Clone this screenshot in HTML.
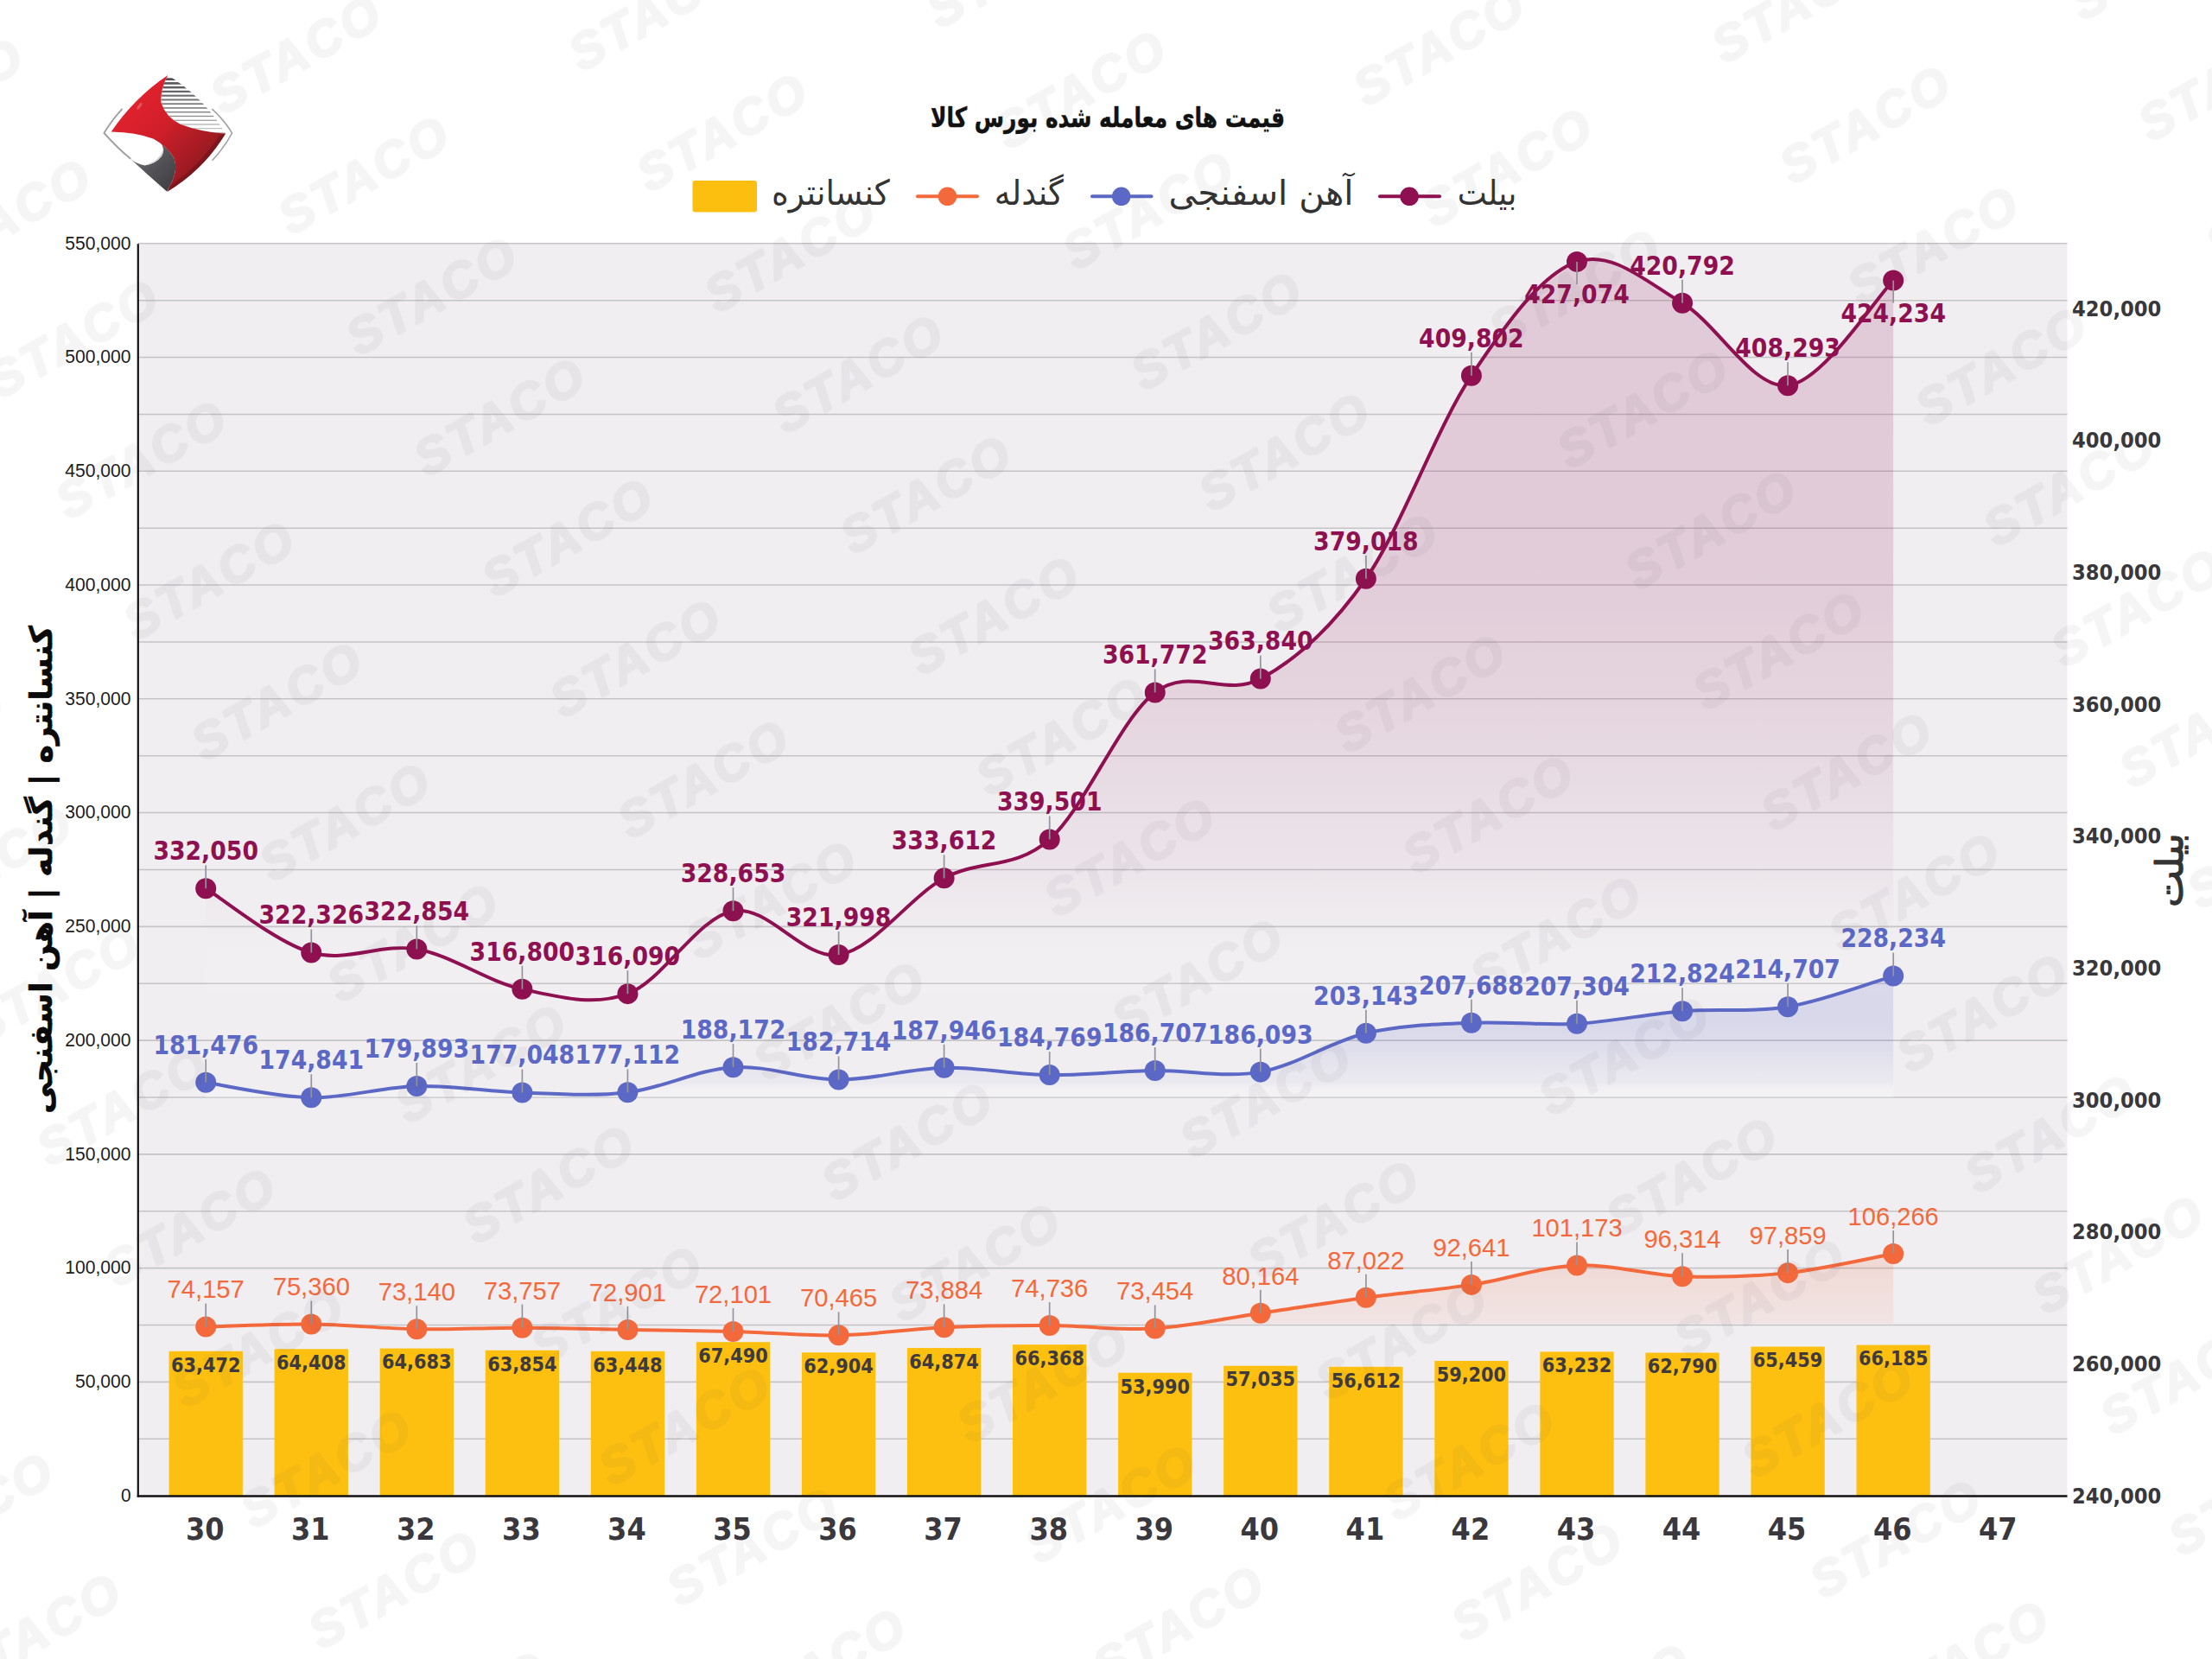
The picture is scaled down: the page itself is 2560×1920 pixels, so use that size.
<!DOCTYPE html>
<html lang="fa"><head><meta charset="utf-8"><title>قیمت های معامله شده بورس کالا</title>
<style>html,body{margin:0;padding:0;background:#fff}body{width:2560px;height:1920px;overflow:hidden}svg{display:block;font-family:'Liberation Sans','DejaVu Sans',sans-serif}</style></head>
<body>
<svg width="2560" height="1920" viewBox="0 0 2560 1920">
<defs>
<linearGradient id="gb" gradientUnits="userSpaceOnUse" x1="0" y1="302.9" x2="0" y2="1150.1"><stop offset="0.00" stop-color="#8f1050" stop-opacity="0.160"/><stop offset="0.42" stop-color="#8f1050" stop-opacity="0.155"/><stop offset="0.63" stop-color="#8f1050" stop-opacity="0.106"/><stop offset="0.83" stop-color="#8f1050" stop-opacity="0.042"/><stop offset="0.93" stop-color="#ffffff" stop-opacity="0.032"/><stop offset="1.00" stop-color="#ffffff" stop-opacity="0.080"/></linearGradient>
<linearGradient id="gs" gradientUnits="userSpaceOnUse" x1="0" y1="1129.6" x2="0" y2="1268.8"><stop offset="0.00" stop-color="#5b68c6" stop-opacity="0.165"/><stop offset="0.42" stop-color="#5b68c6" stop-opacity="0.160"/><stop offset="0.63" stop-color="#5b68c6" stop-opacity="0.109"/><stop offset="0.83" stop-color="#5b68c6" stop-opacity="0.043"/><stop offset="0.93" stop-color="#ffffff" stop-opacity="0.112"/><stop offset="1.00" stop-color="#ffffff" stop-opacity="0.280"/></linearGradient>
<linearGradient id="gp" gradientUnits="userSpaceOnUse" x1="0" y1="1451.0" x2="0" y2="1532"><stop offset="0" stop-color="#f4693b" stop-opacity="0.17"/><stop offset="1" stop-color="#f4693b" stop-opacity="0.07"/></linearGradient>
<clipPath id="cpp"><rect x="0" y="0" width="2560" height="1532"/></clipPath>
<linearGradient id="lgr" x1="0" y1="0" x2="1" y2="1"><stop offset="0" stop-color="#ee2430"/><stop offset="0.45" stop-color="#d01f2a"/><stop offset="1" stop-color="#6e161b"/></linearGradient>
<linearGradient id="lgg" x1="0" y1="0" x2="1" y2="1"><stop offset="0" stop-color="#8a8a8c"/><stop offset="0.5" stop-color="#55555a"/><stop offset="1" stop-color="#3c3c40"/></linearGradient>
</defs>
<rect width="2560" height="1920" fill="#ffffff"/>
<rect x="160.0" y="282.2" width="2232.5" height="1449.3" fill="#f0eef1"/>
<line x1="160.0" x2="2392.5" y1="1665.22" y2="1665.22" stroke="#c4c3c6" stroke-width="1.6"/>
<line x1="160.0" x2="2392.5" y1="1599.35" y2="1599.35" stroke="#c4c3c6" stroke-width="1.6"/>
<line x1="160.0" x2="2392.5" y1="1533.47" y2="1533.47" stroke="#c4c3c6" stroke-width="1.6"/>
<line x1="160.0" x2="2392.5" y1="1467.59" y2="1467.59" stroke="#c4c3c6" stroke-width="1.6"/>
<line x1="160.0" x2="2392.5" y1="1401.71" y2="1401.71" stroke="#c4c3c6" stroke-width="1.6"/>
<line x1="160.0" x2="2392.5" y1="1335.84" y2="1335.84" stroke="#c4c3c6" stroke-width="1.6"/>
<line x1="160.0" x2="2392.5" y1="1269.96" y2="1269.96" stroke="#c4c3c6" stroke-width="1.6"/>
<line x1="160.0" x2="2392.5" y1="1204.08" y2="1204.08" stroke="#c4c3c6" stroke-width="1.6"/>
<line x1="160.0" x2="2392.5" y1="1138.20" y2="1138.20" stroke="#c4c3c6" stroke-width="1.6"/>
<line x1="160.0" x2="2392.5" y1="1072.33" y2="1072.33" stroke="#c4c3c6" stroke-width="1.6"/>
<line x1="160.0" x2="2392.5" y1="1006.45" y2="1006.45" stroke="#c4c3c6" stroke-width="1.6"/>
<line x1="160.0" x2="2392.5" y1="940.57" y2="940.57" stroke="#c4c3c6" stroke-width="1.6"/>
<line x1="160.0" x2="2392.5" y1="874.70" y2="874.70" stroke="#c4c3c6" stroke-width="1.6"/>
<line x1="160.0" x2="2392.5" y1="808.82" y2="808.82" stroke="#c4c3c6" stroke-width="1.6"/>
<line x1="160.0" x2="2392.5" y1="742.94" y2="742.94" stroke="#c4c3c6" stroke-width="1.6"/>
<line x1="160.0" x2="2392.5" y1="677.06" y2="677.06" stroke="#c4c3c6" stroke-width="1.6"/>
<line x1="160.0" x2="2392.5" y1="611.19" y2="611.19" stroke="#c4c3c6" stroke-width="1.6"/>
<line x1="160.0" x2="2392.5" y1="545.31" y2="545.31" stroke="#c4c3c6" stroke-width="1.6"/>
<line x1="160.0" x2="2392.5" y1="479.43" y2="479.43" stroke="#c4c3c6" stroke-width="1.6"/>
<line x1="160.0" x2="2392.5" y1="413.55" y2="413.55" stroke="#c4c3c6" stroke-width="1.6"/>
<line x1="160.0" x2="2392.5" y1="347.68" y2="347.68" stroke="#c4c3c6" stroke-width="1.6"/>
<line x1="160.0" x2="2392.5" y1="281.80" y2="281.80" stroke="#c4c3c6" stroke-width="1.6"/>
<rect x="195.55" y="1563.75" width="85.30" height="167.75" fill="#fdc010"/>
<rect x="317.61" y="1561.28" width="85.30" height="170.22" fill="#fdc010"/>
<rect x="439.67" y="1560.55" width="85.30" height="170.95" fill="#fdc010"/>
<rect x="561.73" y="1562.74" width="85.30" height="168.76" fill="#fdc010"/>
<rect x="683.79" y="1563.81" width="85.30" height="167.69" fill="#fdc010"/>
<rect x="805.85" y="1553.16" width="85.30" height="178.34" fill="#fdc010"/>
<rect x="927.91" y="1565.24" width="85.30" height="166.26" fill="#fdc010"/>
<rect x="1049.97" y="1560.05" width="85.30" height="171.45" fill="#fdc010"/>
<rect x="1172.03" y="1556.11" width="85.30" height="175.39" fill="#fdc010"/>
<rect x="1294.09" y="1588.73" width="85.30" height="142.77" fill="#fdc010"/>
<rect x="1416.15" y="1580.71" width="85.30" height="150.79" fill="#fdc010"/>
<rect x="1538.21" y="1581.82" width="85.30" height="149.68" fill="#fdc010"/>
<rect x="1660.27" y="1575.00" width="85.30" height="156.50" fill="#fdc010"/>
<rect x="1782.33" y="1564.38" width="85.30" height="167.12" fill="#fdc010"/>
<rect x="1904.39" y="1565.54" width="85.30" height="165.96" fill="#fdc010"/>
<rect x="2026.45" y="1558.51" width="85.30" height="172.99" fill="#fdc010"/>
<rect x="2148.51" y="1556.60" width="85.30" height="174.90" fill="#fdc010"/>
<path d="M238.20,1028.29 C258.54,1040.66 319.57,1090.82 360.26,1102.52 C400.95,1114.22 441.63,1091.46 482.32,1098.49 C523.01,1105.52 563.69,1136.10 604.38,1144.71 C645.07,1153.31 685.75,1165.21 726.44,1150.13 C767.13,1135.05 807.81,1061.74 848.50,1054.22 C889.19,1046.71 929.87,1111.34 970.56,1105.03 C1011.25,1098.72 1051.93,1038.64 1092.62,1016.37 C1133.31,994.10 1173.99,1007.24 1214.68,971.41 C1255.37,935.58 1296.05,832.36 1336.74,801.39 C1377.43,770.43 1418.11,807.55 1458.80,785.61 C1499.49,763.66 1540.17,728.22 1580.86,669.74 C1621.55,611.26 1662.23,495.87 1702.92,434.73 C1743.61,373.59 1784.29,316.86 1824.98,302.88 C1865.67,288.89 1906.35,326.94 1947.04,350.83 C1987.73,374.73 2028.41,450.63 2069.10,446.25 C2109.79,441.87 2170.82,344.84 2191.16,324.56 L2191.16,1150.13 L238.20,1150.13 Z" fill="url(#gb)"/>
<path d="M238.20,1252.79 C258.54,1255.71 319.57,1269.58 360.26,1270.28 C400.95,1270.97 441.63,1257.93 482.32,1256.97 C523.01,1256.00 563.69,1263.24 604.38,1264.46 C645.07,1265.68 685.75,1269.18 726.44,1264.29 C767.13,1259.41 807.81,1237.61 848.50,1235.15 C889.19,1232.69 929.87,1249.43 970.56,1249.53 C1011.25,1249.63 1051.93,1236.65 1092.62,1235.75 C1133.31,1234.84 1173.99,1243.57 1214.68,1244.12 C1255.37,1244.66 1296.05,1239.59 1336.74,1239.01 C1377.43,1238.43 1418.11,1247.85 1458.80,1240.63 C1499.49,1233.41 1540.17,1205.18 1580.86,1195.70 C1621.55,1186.22 1662.23,1185.55 1702.92,1183.72 C1743.61,1181.90 1784.29,1186.99 1824.98,1184.74 C1865.67,1182.48 1906.35,1173.44 1947.04,1170.19 C1987.73,1166.94 2028.41,1172.00 2069.10,1165.23 C2109.79,1158.46 2170.82,1135.52 2191.16,1129.58 L2191.16,1270.28 L238.20,1270.28 Z" fill="url(#gs)"/>
<path d="M238.20,1535.59 C258.54,1535.06 319.57,1531.97 360.26,1532.42 C400.95,1532.87 441.63,1537.57 482.32,1538.27 C523.01,1538.97 563.69,1536.54 604.38,1536.64 C645.07,1536.75 685.75,1538.17 726.44,1538.90 C767.13,1539.63 807.81,1539.94 848.50,1541.01 C889.19,1542.08 929.87,1546.10 970.56,1545.32 C1011.25,1544.54 1051.93,1538.18 1092.62,1536.31 C1133.31,1534.43 1173.99,1533.87 1214.68,1534.06 C1255.37,1534.25 1296.05,1539.83 1336.74,1537.44 C1377.43,1535.06 1418.11,1525.72 1458.80,1519.76 C1499.49,1513.80 1540.17,1507.17 1580.86,1501.69 C1621.55,1496.21 1662.23,1493.10 1702.92,1486.88 C1743.61,1480.67 1784.29,1466.01 1824.98,1464.40 C1865.67,1462.79 1906.35,1475.75 1947.04,1477.20 C1987.73,1478.66 2028.41,1477.50 2069.10,1473.13 C2109.79,1468.76 2170.82,1454.67 2191.16,1450.98 L2191.16,1532.00 L238.20,1532.00 Z" fill="url(#gp)" clip-path="url(#cpp)"/>
<line x1="159.8" x2="159.8" y1="282.2" y2="1732.5" stroke="#111" stroke-width="2.2"/>
<line x1="158.7" x2="2392.5" y1="1731.5" y2="1731.5" stroke="#111" stroke-width="2.4"/>
<path d="M238.20,1028.29 C258.54,1040.66 319.57,1090.82 360.26,1102.52 C400.95,1114.22 441.63,1091.46 482.32,1098.49 C523.01,1105.52 563.69,1136.10 604.38,1144.71 C645.07,1153.31 685.75,1165.21 726.44,1150.13 C767.13,1135.05 807.81,1061.74 848.50,1054.22 C889.19,1046.71 929.87,1111.34 970.56,1105.03 C1011.25,1098.72 1051.93,1038.64 1092.62,1016.37 C1133.31,994.10 1173.99,1007.24 1214.68,971.41 C1255.37,935.58 1296.05,832.36 1336.74,801.39 C1377.43,770.43 1418.11,807.55 1458.80,785.61 C1499.49,763.66 1540.17,728.22 1580.86,669.74 C1621.55,611.26 1662.23,495.87 1702.92,434.73 C1743.61,373.59 1784.29,316.86 1824.98,302.88 C1865.67,288.89 1906.35,326.94 1947.04,350.83 C1987.73,374.73 2028.41,450.63 2069.10,446.25 C2109.79,441.87 2170.82,344.84 2191.16,324.56" fill="none" stroke="#8f1050" stroke-width="4" stroke-linejoin="round" stroke-linecap="round"/>
<path d="M238.20,1252.79 C258.54,1255.71 319.57,1269.58 360.26,1270.28 C400.95,1270.97 441.63,1257.93 482.32,1256.97 C523.01,1256.00 563.69,1263.24 604.38,1264.46 C645.07,1265.68 685.75,1269.18 726.44,1264.29 C767.13,1259.41 807.81,1237.61 848.50,1235.15 C889.19,1232.69 929.87,1249.43 970.56,1249.53 C1011.25,1249.63 1051.93,1236.65 1092.62,1235.75 C1133.31,1234.84 1173.99,1243.57 1214.68,1244.12 C1255.37,1244.66 1296.05,1239.59 1336.74,1239.01 C1377.43,1238.43 1418.11,1247.85 1458.80,1240.63 C1499.49,1233.41 1540.17,1205.18 1580.86,1195.70 C1621.55,1186.22 1662.23,1185.55 1702.92,1183.72 C1743.61,1181.90 1784.29,1186.99 1824.98,1184.74 C1865.67,1182.48 1906.35,1173.44 1947.04,1170.19 C1987.73,1166.94 2028.41,1172.00 2069.10,1165.23 C2109.79,1158.46 2170.82,1135.52 2191.16,1129.58" fill="none" stroke="#5b68c6" stroke-width="4" stroke-linejoin="round" stroke-linecap="round"/>
<path d="M238.20,1535.59 C258.54,1535.06 319.57,1531.97 360.26,1532.42 C400.95,1532.87 441.63,1537.57 482.32,1538.27 C523.01,1538.97 563.69,1536.54 604.38,1536.64 C645.07,1536.75 685.75,1538.17 726.44,1538.90 C767.13,1539.63 807.81,1539.94 848.50,1541.01 C889.19,1542.08 929.87,1546.10 970.56,1545.32 C1011.25,1544.54 1051.93,1538.18 1092.62,1536.31 C1133.31,1534.43 1173.99,1533.87 1214.68,1534.06 C1255.37,1534.25 1296.05,1539.83 1336.74,1537.44 C1377.43,1535.06 1418.11,1525.72 1458.80,1519.76 C1499.49,1513.80 1540.17,1507.17 1580.86,1501.69 C1621.55,1496.21 1662.23,1493.10 1702.92,1486.88 C1743.61,1480.67 1784.29,1466.01 1824.98,1464.40 C1865.67,1462.79 1906.35,1475.75 1947.04,1477.20 C1987.73,1478.66 2028.41,1477.50 2069.10,1473.13 C2109.79,1468.76 2170.82,1454.67 2191.16,1450.98" fill="none" stroke="#f4693b" stroke-width="4" stroke-linejoin="round" stroke-linecap="round"/>
<circle cx="238.20" cy="1535.59" r="12" fill="#f4693b"/>
<circle cx="360.26" cy="1532.42" r="12" fill="#f4693b"/>
<circle cx="482.32" cy="1538.27" r="12" fill="#f4693b"/>
<circle cx="604.38" cy="1536.64" r="12" fill="#f4693b"/>
<circle cx="726.44" cy="1538.90" r="12" fill="#f4693b"/>
<circle cx="848.50" cy="1541.01" r="12" fill="#f4693b"/>
<circle cx="970.56" cy="1545.32" r="12" fill="#f4693b"/>
<circle cx="1092.62" cy="1536.31" r="12" fill="#f4693b"/>
<circle cx="1214.68" cy="1534.06" r="12" fill="#f4693b"/>
<circle cx="1336.74" cy="1537.44" r="12" fill="#f4693b"/>
<circle cx="1458.80" cy="1519.76" r="12" fill="#f4693b"/>
<circle cx="1580.86" cy="1501.69" r="12" fill="#f4693b"/>
<circle cx="1702.92" cy="1486.88" r="12" fill="#f4693b"/>
<circle cx="1824.98" cy="1464.40" r="12" fill="#f4693b"/>
<circle cx="1947.04" cy="1477.20" r="12" fill="#f4693b"/>
<circle cx="2069.10" cy="1473.13" r="12" fill="#f4693b"/>
<circle cx="2191.16" cy="1450.98" r="12" fill="#f4693b"/>
<line x1="238.2" x2="238.2" y1="1508.6" y2="1535.6" stroke="#94949a" stroke-width="1.7"/>
<text x="238.2" y="1502.4" font-size="29.4" font-weight="400" fill="#f4693b" text-anchor="middle" textLength="89.2" lengthAdjust="spacingAndGlyphs">74,157</text>
<line x1="360.3" x2="360.3" y1="1505.4" y2="1532.4" stroke="#94949a" stroke-width="1.7"/>
<text x="360.3" y="1499.2" font-size="29.4" font-weight="400" fill="#f4693b" text-anchor="middle" textLength="89.2" lengthAdjust="spacingAndGlyphs">75,360</text>
<line x1="482.3" x2="482.3" y1="1511.3" y2="1538.3" stroke="#94949a" stroke-width="1.7"/>
<text x="482.3" y="1505.1" font-size="29.4" font-weight="400" fill="#f4693b" text-anchor="middle" textLength="89.2" lengthAdjust="spacingAndGlyphs">73,140</text>
<line x1="604.4" x2="604.4" y1="1509.6" y2="1536.6" stroke="#94949a" stroke-width="1.7"/>
<text x="604.4" y="1503.5" font-size="29.4" font-weight="400" fill="#f4693b" text-anchor="middle" textLength="89.2" lengthAdjust="spacingAndGlyphs">73,757</text>
<line x1="726.4" x2="726.4" y1="1511.9" y2="1538.9" stroke="#94949a" stroke-width="1.7"/>
<text x="726.4" y="1505.7" font-size="29.4" font-weight="400" fill="#f4693b" text-anchor="middle" textLength="89.2" lengthAdjust="spacingAndGlyphs">72,901</text>
<line x1="848.5" x2="848.5" y1="1514.0" y2="1541.0" stroke="#94949a" stroke-width="1.7"/>
<text x="848.5" y="1507.8" font-size="29.4" font-weight="400" fill="#f4693b" text-anchor="middle" textLength="89.2" lengthAdjust="spacingAndGlyphs">72,101</text>
<line x1="970.6" x2="970.6" y1="1518.3" y2="1545.3" stroke="#94949a" stroke-width="1.7"/>
<text x="970.6" y="1512.1" font-size="29.4" font-weight="400" fill="#f4693b" text-anchor="middle" textLength="89.2" lengthAdjust="spacingAndGlyphs">70,465</text>
<line x1="1092.6" x2="1092.6" y1="1509.3" y2="1536.3" stroke="#94949a" stroke-width="1.7"/>
<text x="1092.6" y="1503.1" font-size="29.4" font-weight="400" fill="#f4693b" text-anchor="middle" textLength="89.2" lengthAdjust="spacingAndGlyphs">73,884</text>
<line x1="1214.7" x2="1214.7" y1="1507.1" y2="1534.1" stroke="#94949a" stroke-width="1.7"/>
<text x="1214.7" y="1500.9" font-size="29.4" font-weight="400" fill="#f4693b" text-anchor="middle" textLength="89.2" lengthAdjust="spacingAndGlyphs">74,736</text>
<line x1="1336.7" x2="1336.7" y1="1510.4" y2="1537.4" stroke="#94949a" stroke-width="1.7"/>
<text x="1336.7" y="1504.3" font-size="29.4" font-weight="400" fill="#f4693b" text-anchor="middle" textLength="89.2" lengthAdjust="spacingAndGlyphs">73,454</text>
<line x1="1458.8" x2="1458.8" y1="1492.8" y2="1519.8" stroke="#94949a" stroke-width="1.7"/>
<text x="1458.8" y="1486.6" font-size="29.4" font-weight="400" fill="#f4693b" text-anchor="middle" textLength="89.2" lengthAdjust="spacingAndGlyphs">80,164</text>
<line x1="1580.9" x2="1580.9" y1="1474.7" y2="1501.7" stroke="#94949a" stroke-width="1.7"/>
<text x="1580.9" y="1468.5" font-size="29.4" font-weight="400" fill="#f4693b" text-anchor="middle" textLength="89.2" lengthAdjust="spacingAndGlyphs">87,022</text>
<line x1="1702.9" x2="1702.9" y1="1459.9" y2="1486.9" stroke="#94949a" stroke-width="1.7"/>
<text x="1702.9" y="1453.7" font-size="29.4" font-weight="400" fill="#f4693b" text-anchor="middle" textLength="89.2" lengthAdjust="spacingAndGlyphs">92,641</text>
<line x1="1825.0" x2="1825.0" y1="1437.4" y2="1464.4" stroke="#94949a" stroke-width="1.7"/>
<text x="1825.0" y="1431.2" font-size="29.4" font-weight="400" fill="#f4693b" text-anchor="middle" textLength="105.2" lengthAdjust="spacingAndGlyphs">101,173</text>
<line x1="1947.0" x2="1947.0" y1="1450.2" y2="1477.2" stroke="#94949a" stroke-width="1.7"/>
<text x="1947.0" y="1444.0" font-size="29.4" font-weight="400" fill="#f4693b" text-anchor="middle" textLength="89.2" lengthAdjust="spacingAndGlyphs">96,314</text>
<line x1="2069.1" x2="2069.1" y1="1446.1" y2="1473.1" stroke="#94949a" stroke-width="1.7"/>
<text x="2069.1" y="1440.0" font-size="29.4" font-weight="400" fill="#f4693b" text-anchor="middle" textLength="89.2" lengthAdjust="spacingAndGlyphs">97,859</text>
<line x1="2191.2" x2="2191.2" y1="1424.0" y2="1451.0" stroke="#94949a" stroke-width="1.7"/>
<text x="2191.2" y="1417.8" font-size="29.4" font-weight="400" fill="#f4693b" text-anchor="middle" textLength="105.2" lengthAdjust="spacingAndGlyphs">106,266</text>
<circle cx="238.20" cy="1252.79" r="12" fill="#5b68c6"/>
<circle cx="360.26" cy="1270.28" r="12" fill="#5b68c6"/>
<circle cx="482.32" cy="1256.97" r="12" fill="#5b68c6"/>
<circle cx="604.38" cy="1264.46" r="12" fill="#5b68c6"/>
<circle cx="726.44" cy="1264.29" r="12" fill="#5b68c6"/>
<circle cx="848.50" cy="1235.15" r="12" fill="#5b68c6"/>
<circle cx="970.56" cy="1249.53" r="12" fill="#5b68c6"/>
<circle cx="1092.62" cy="1235.75" r="12" fill="#5b68c6"/>
<circle cx="1214.68" cy="1244.12" r="12" fill="#5b68c6"/>
<circle cx="1336.74" cy="1239.01" r="12" fill="#5b68c6"/>
<circle cx="1458.80" cy="1240.63" r="12" fill="#5b68c6"/>
<circle cx="1580.86" cy="1195.70" r="12" fill="#5b68c6"/>
<circle cx="1702.92" cy="1183.72" r="12" fill="#5b68c6"/>
<circle cx="1824.98" cy="1184.74" r="12" fill="#5b68c6"/>
<circle cx="1947.04" cy="1170.19" r="12" fill="#5b68c6"/>
<circle cx="2069.10" cy="1165.23" r="12" fill="#5b68c6"/>
<circle cx="2191.16" cy="1129.58" r="12" fill="#5b68c6"/>
<line x1="238.2" x2="238.2" y1="1225.8" y2="1252.8" stroke="#94949a" stroke-width="1.7"/>
<text x="238.2" y="1219.6" font-size="29.4" font-weight="700" fill="#5b68c6" text-anchor="middle" textLength="121.6" lengthAdjust="spacingAndGlyphs" style="font-family:'DejaVu Sans',sans-serif">181,476</text>
<line x1="360.3" x2="360.3" y1="1243.3" y2="1270.3" stroke="#94949a" stroke-width="1.7"/>
<text x="360.3" y="1237.1" font-size="29.4" font-weight="700" fill="#5b68c6" text-anchor="middle" textLength="121.6" lengthAdjust="spacingAndGlyphs" style="font-family:'DejaVu Sans',sans-serif">174,841</text>
<line x1="482.3" x2="482.3" y1="1230.0" y2="1257.0" stroke="#94949a" stroke-width="1.7"/>
<text x="482.3" y="1223.8" font-size="29.4" font-weight="700" fill="#5b68c6" text-anchor="middle" textLength="121.6" lengthAdjust="spacingAndGlyphs" style="font-family:'DejaVu Sans',sans-serif">179,893</text>
<line x1="604.4" x2="604.4" y1="1237.5" y2="1264.5" stroke="#94949a" stroke-width="1.7"/>
<text x="604.4" y="1231.3" font-size="29.4" font-weight="700" fill="#5b68c6" text-anchor="middle" textLength="121.6" lengthAdjust="spacingAndGlyphs" style="font-family:'DejaVu Sans',sans-serif">177,048</text>
<line x1="726.4" x2="726.4" y1="1237.3" y2="1264.3" stroke="#94949a" stroke-width="1.7"/>
<text x="726.4" y="1231.1" font-size="29.4" font-weight="700" fill="#5b68c6" text-anchor="middle" textLength="121.6" lengthAdjust="spacingAndGlyphs" style="font-family:'DejaVu Sans',sans-serif">177,112</text>
<line x1="848.5" x2="848.5" y1="1208.1" y2="1235.1" stroke="#94949a" stroke-width="1.7"/>
<text x="848.5" y="1202.0" font-size="29.4" font-weight="700" fill="#5b68c6" text-anchor="middle" textLength="121.6" lengthAdjust="spacingAndGlyphs" style="font-family:'DejaVu Sans',sans-serif">188,172</text>
<line x1="970.6" x2="970.6" y1="1222.5" y2="1249.5" stroke="#94949a" stroke-width="1.7"/>
<text x="970.6" y="1216.4" font-size="29.4" font-weight="700" fill="#5b68c6" text-anchor="middle" textLength="121.6" lengthAdjust="spacingAndGlyphs" style="font-family:'DejaVu Sans',sans-serif">182,714</text>
<line x1="1092.6" x2="1092.6" y1="1208.7" y2="1235.7" stroke="#94949a" stroke-width="1.7"/>
<text x="1092.6" y="1202.6" font-size="29.4" font-weight="700" fill="#5b68c6" text-anchor="middle" textLength="121.6" lengthAdjust="spacingAndGlyphs" style="font-family:'DejaVu Sans',sans-serif">187,946</text>
<line x1="1214.7" x2="1214.7" y1="1217.1" y2="1244.1" stroke="#94949a" stroke-width="1.7"/>
<text x="1214.7" y="1210.9" font-size="29.4" font-weight="700" fill="#5b68c6" text-anchor="middle" textLength="121.6" lengthAdjust="spacingAndGlyphs" style="font-family:'DejaVu Sans',sans-serif">184,769</text>
<line x1="1336.7" x2="1336.7" y1="1212.0" y2="1239.0" stroke="#94949a" stroke-width="1.7"/>
<text x="1336.7" y="1205.8" font-size="29.4" font-weight="700" fill="#5b68c6" text-anchor="middle" textLength="121.6" lengthAdjust="spacingAndGlyphs" style="font-family:'DejaVu Sans',sans-serif">186,707</text>
<line x1="1458.8" x2="1458.8" y1="1213.6" y2="1240.6" stroke="#94949a" stroke-width="1.7"/>
<text x="1458.8" y="1207.5" font-size="29.4" font-weight="700" fill="#5b68c6" text-anchor="middle" textLength="121.6" lengthAdjust="spacingAndGlyphs" style="font-family:'DejaVu Sans',sans-serif">186,093</text>
<line x1="1580.9" x2="1580.9" y1="1168.7" y2="1195.7" stroke="#94949a" stroke-width="1.7"/>
<text x="1580.9" y="1162.5" font-size="29.4" font-weight="700" fill="#5b68c6" text-anchor="middle" textLength="121.6" lengthAdjust="spacingAndGlyphs" style="font-family:'DejaVu Sans',sans-serif">203,143</text>
<line x1="1702.9" x2="1702.9" y1="1156.7" y2="1183.7" stroke="#94949a" stroke-width="1.7"/>
<text x="1702.9" y="1150.5" font-size="29.4" font-weight="700" fill="#5b68c6" text-anchor="middle" textLength="121.6" lengthAdjust="spacingAndGlyphs" style="font-family:'DejaVu Sans',sans-serif">207,688</text>
<line x1="1825.0" x2="1825.0" y1="1157.7" y2="1184.7" stroke="#94949a" stroke-width="1.7"/>
<text x="1825.0" y="1151.6" font-size="29.4" font-weight="700" fill="#5b68c6" text-anchor="middle" textLength="121.6" lengthAdjust="spacingAndGlyphs" style="font-family:'DejaVu Sans',sans-serif">207,304</text>
<line x1="1947.0" x2="1947.0" y1="1143.2" y2="1170.2" stroke="#94949a" stroke-width="1.7"/>
<text x="1947.0" y="1137.0" font-size="29.4" font-weight="700" fill="#5b68c6" text-anchor="middle" textLength="121.6" lengthAdjust="spacingAndGlyphs" style="font-family:'DejaVu Sans',sans-serif">212,824</text>
<line x1="2069.1" x2="2069.1" y1="1138.2" y2="1165.2" stroke="#94949a" stroke-width="1.7"/>
<text x="2069.1" y="1132.1" font-size="29.4" font-weight="700" fill="#5b68c6" text-anchor="middle" textLength="121.6" lengthAdjust="spacingAndGlyphs" style="font-family:'DejaVu Sans',sans-serif">214,707</text>
<line x1="2191.2" x2="2191.2" y1="1102.6" y2="1129.6" stroke="#94949a" stroke-width="1.7"/>
<text x="2191.2" y="1096.4" font-size="29.4" font-weight="700" fill="#5b68c6" text-anchor="middle" textLength="121.6" lengthAdjust="spacingAndGlyphs" style="font-family:'DejaVu Sans',sans-serif">228,234</text>
<circle cx="238.20" cy="1028.29" r="12" fill="#8f1050"/>
<circle cx="360.26" cy="1102.52" r="12" fill="#8f1050"/>
<circle cx="482.32" cy="1098.49" r="12" fill="#8f1050"/>
<circle cx="604.38" cy="1144.71" r="12" fill="#8f1050"/>
<circle cx="726.44" cy="1150.13" r="12" fill="#8f1050"/>
<circle cx="848.50" cy="1054.22" r="12" fill="#8f1050"/>
<circle cx="970.56" cy="1105.03" r="12" fill="#8f1050"/>
<circle cx="1092.62" cy="1016.37" r="12" fill="#8f1050"/>
<circle cx="1214.68" cy="971.41" r="12" fill="#8f1050"/>
<circle cx="1336.74" cy="801.39" r="12" fill="#8f1050"/>
<circle cx="1458.80" cy="785.61" r="12" fill="#8f1050"/>
<circle cx="1580.86" cy="669.74" r="12" fill="#8f1050"/>
<circle cx="1702.92" cy="434.73" r="12" fill="#8f1050"/>
<circle cx="1824.98" cy="302.88" r="12" fill="#8f1050"/>
<circle cx="1947.04" cy="350.83" r="12" fill="#8f1050"/>
<circle cx="2069.10" cy="446.25" r="12" fill="#8f1050"/>
<circle cx="2191.16" cy="324.56" r="12" fill="#8f1050"/>
<line x1="238.2" x2="238.2" y1="1001.3" y2="1028.3" stroke="#94949a" stroke-width="1.7"/>
<text x="238.2" y="995.1" font-size="29.4" font-weight="700" fill="#8f1050" text-anchor="middle" textLength="121.6" lengthAdjust="spacingAndGlyphs" style="font-family:'DejaVu Sans',sans-serif">332,050</text>
<line x1="360.3" x2="360.3" y1="1075.5" y2="1102.5" stroke="#94949a" stroke-width="1.7"/>
<text x="360.3" y="1069.3" font-size="29.4" font-weight="700" fill="#8f1050" text-anchor="middle" textLength="121.6" lengthAdjust="spacingAndGlyphs" style="font-family:'DejaVu Sans',sans-serif">322,326</text>
<line x1="482.3" x2="482.3" y1="1071.5" y2="1098.5" stroke="#94949a" stroke-width="1.7"/>
<text x="482.3" y="1065.3" font-size="29.4" font-weight="700" fill="#8f1050" text-anchor="middle" textLength="121.6" lengthAdjust="spacingAndGlyphs" style="font-family:'DejaVu Sans',sans-serif">322,854</text>
<line x1="604.4" x2="604.4" y1="1117.7" y2="1144.7" stroke="#94949a" stroke-width="1.7"/>
<text x="604.4" y="1111.5" font-size="29.4" font-weight="700" fill="#8f1050" text-anchor="middle" textLength="121.6" lengthAdjust="spacingAndGlyphs" style="font-family:'DejaVu Sans',sans-serif">316,800</text>
<line x1="726.4" x2="726.4" y1="1123.1" y2="1150.1" stroke="#94949a" stroke-width="1.7"/>
<text x="726.4" y="1117.0" font-size="29.4" font-weight="700" fill="#8f1050" text-anchor="middle" textLength="121.6" lengthAdjust="spacingAndGlyphs" style="font-family:'DejaVu Sans',sans-serif">316,090</text>
<line x1="848.5" x2="848.5" y1="1027.2" y2="1054.2" stroke="#94949a" stroke-width="1.7"/>
<text x="848.5" y="1021.0" font-size="29.4" font-weight="700" fill="#8f1050" text-anchor="middle" textLength="121.6" lengthAdjust="spacingAndGlyphs" style="font-family:'DejaVu Sans',sans-serif">328,653</text>
<line x1="970.6" x2="970.6" y1="1078.0" y2="1105.0" stroke="#94949a" stroke-width="1.7"/>
<text x="970.6" y="1071.9" font-size="29.4" font-weight="700" fill="#8f1050" text-anchor="middle" textLength="121.6" lengthAdjust="spacingAndGlyphs" style="font-family:'DejaVu Sans',sans-serif">321,998</text>
<line x1="1092.6" x2="1092.6" y1="989.4" y2="1016.4" stroke="#94949a" stroke-width="1.7"/>
<text x="1092.6" y="983.2" font-size="29.4" font-weight="700" fill="#8f1050" text-anchor="middle" textLength="121.6" lengthAdjust="spacingAndGlyphs" style="font-family:'DejaVu Sans',sans-serif">333,612</text>
<line x1="1214.7" x2="1214.7" y1="944.4" y2="971.4" stroke="#94949a" stroke-width="1.7"/>
<text x="1214.7" y="938.2" font-size="29.4" font-weight="700" fill="#8f1050" text-anchor="middle" textLength="121.6" lengthAdjust="spacingAndGlyphs" style="font-family:'DejaVu Sans',sans-serif">339,501</text>
<line x1="1336.7" x2="1336.7" y1="774.4" y2="801.4" stroke="#94949a" stroke-width="1.7"/>
<text x="1336.7" y="768.2" font-size="29.4" font-weight="700" fill="#8f1050" text-anchor="middle" textLength="121.6" lengthAdjust="spacingAndGlyphs" style="font-family:'DejaVu Sans',sans-serif">361,772</text>
<line x1="1458.8" x2="1458.8" y1="758.6" y2="785.6" stroke="#94949a" stroke-width="1.7"/>
<text x="1458.8" y="752.4" font-size="29.4" font-weight="700" fill="#8f1050" text-anchor="middle" textLength="121.6" lengthAdjust="spacingAndGlyphs" style="font-family:'DejaVu Sans',sans-serif">363,840</text>
<line x1="1580.9" x2="1580.9" y1="642.7" y2="669.7" stroke="#94949a" stroke-width="1.7"/>
<text x="1580.9" y="636.6" font-size="29.4" font-weight="700" fill="#8f1050" text-anchor="middle" textLength="121.6" lengthAdjust="spacingAndGlyphs" style="font-family:'DejaVu Sans',sans-serif">379,018</text>
<line x1="1702.9" x2="1702.9" y1="407.7" y2="434.7" stroke="#94949a" stroke-width="1.7"/>
<text x="1702.9" y="401.6" font-size="29.4" font-weight="700" fill="#8f1050" text-anchor="middle" textLength="121.6" lengthAdjust="spacingAndGlyphs" style="font-family:'DejaVu Sans',sans-serif">409,802</text>
<line x1="1825.0" x2="1825.0" y1="302.9" y2="328.9" stroke="#94949a" stroke-width="1.7"/>
<text x="1825.0" y="350.9" font-size="29.4" font-weight="700" fill="#8f1050" text-anchor="middle" textLength="121.6" lengthAdjust="spacingAndGlyphs" style="font-family:'DejaVu Sans',sans-serif">427,074</text>
<line x1="1947.0" x2="1947.0" y1="323.8" y2="350.8" stroke="#94949a" stroke-width="1.7"/>
<text x="1947.0" y="317.7" font-size="29.4" font-weight="700" fill="#8f1050" text-anchor="middle" textLength="121.6" lengthAdjust="spacingAndGlyphs" style="font-family:'DejaVu Sans',sans-serif">420,792</text>
<line x1="2069.1" x2="2069.1" y1="419.3" y2="446.3" stroke="#94949a" stroke-width="1.7"/>
<text x="2069.1" y="413.1" font-size="29.4" font-weight="700" fill="#8f1050" text-anchor="middle" textLength="121.6" lengthAdjust="spacingAndGlyphs" style="font-family:'DejaVu Sans',sans-serif">408,293</text>
<line x1="2191.2" x2="2191.2" y1="324.6" y2="350.6" stroke="#94949a" stroke-width="1.7"/>
<text x="2191.2" y="372.6" font-size="29.4" font-weight="700" fill="#8f1050" text-anchor="middle" textLength="121.6" lengthAdjust="spacingAndGlyphs" style="font-family:'DejaVu Sans',sans-serif">424,234</text>
<text x="238.2" y="1587.5" font-size="23.0" font-weight="700" fill="#3e3a3e" text-anchor="middle" textLength="80.5" lengthAdjust="spacingAndGlyphs" style="font-family:'DejaVu Sans',sans-serif">63,472</text>
<text x="360.3" y="1585.0" font-size="23.0" font-weight="700" fill="#3e3a3e" text-anchor="middle" textLength="80.5" lengthAdjust="spacingAndGlyphs" style="font-family:'DejaVu Sans',sans-serif">64,408</text>
<text x="482.3" y="1584.3" font-size="23.0" font-weight="700" fill="#3e3a3e" text-anchor="middle" textLength="80.5" lengthAdjust="spacingAndGlyphs" style="font-family:'DejaVu Sans',sans-serif">64,683</text>
<text x="604.4" y="1586.5" font-size="23.0" font-weight="700" fill="#3e3a3e" text-anchor="middle" textLength="80.5" lengthAdjust="spacingAndGlyphs" style="font-family:'DejaVu Sans',sans-serif">63,854</text>
<text x="726.4" y="1587.5" font-size="23.0" font-weight="700" fill="#3e3a3e" text-anchor="middle" textLength="80.5" lengthAdjust="spacingAndGlyphs" style="font-family:'DejaVu Sans',sans-serif">63,448</text>
<text x="848.5" y="1576.9" font-size="23.0" font-weight="700" fill="#3e3a3e" text-anchor="middle" textLength="80.5" lengthAdjust="spacingAndGlyphs" style="font-family:'DejaVu Sans',sans-serif">67,490</text>
<text x="970.6" y="1589.0" font-size="23.0" font-weight="700" fill="#3e3a3e" text-anchor="middle" textLength="80.5" lengthAdjust="spacingAndGlyphs" style="font-family:'DejaVu Sans',sans-serif">62,904</text>
<text x="1092.6" y="1583.8" font-size="23.0" font-weight="700" fill="#3e3a3e" text-anchor="middle" textLength="80.5" lengthAdjust="spacingAndGlyphs" style="font-family:'DejaVu Sans',sans-serif">64,874</text>
<text x="1214.7" y="1579.8" font-size="23.0" font-weight="700" fill="#3e3a3e" text-anchor="middle" textLength="80.5" lengthAdjust="spacingAndGlyphs" style="font-family:'DejaVu Sans',sans-serif">66,368</text>
<text x="1336.7" y="1612.5" font-size="23.0" font-weight="700" fill="#3e3a3e" text-anchor="middle" textLength="80.5" lengthAdjust="spacingAndGlyphs" style="font-family:'DejaVu Sans',sans-serif">53,990</text>
<text x="1458.8" y="1604.4" font-size="23.0" font-weight="700" fill="#3e3a3e" text-anchor="middle" textLength="80.5" lengthAdjust="spacingAndGlyphs" style="font-family:'DejaVu Sans',sans-serif">57,035</text>
<text x="1580.9" y="1605.6" font-size="23.0" font-weight="700" fill="#3e3a3e" text-anchor="middle" textLength="80.5" lengthAdjust="spacingAndGlyphs" style="font-family:'DejaVu Sans',sans-serif">56,612</text>
<text x="1702.9" y="1598.7" font-size="23.0" font-weight="700" fill="#3e3a3e" text-anchor="middle" textLength="80.5" lengthAdjust="spacingAndGlyphs" style="font-family:'DejaVu Sans',sans-serif">59,200</text>
<text x="1825.0" y="1588.1" font-size="23.0" font-weight="700" fill="#3e3a3e" text-anchor="middle" textLength="80.5" lengthAdjust="spacingAndGlyphs" style="font-family:'DejaVu Sans',sans-serif">63,232</text>
<text x="1947.0" y="1589.3" font-size="23.0" font-weight="700" fill="#3e3a3e" text-anchor="middle" textLength="80.5" lengthAdjust="spacingAndGlyphs" style="font-family:'DejaVu Sans',sans-serif">62,790</text>
<text x="2069.1" y="1582.2" font-size="23.0" font-weight="700" fill="#3e3a3e" text-anchor="middle" textLength="80.5" lengthAdjust="spacingAndGlyphs" style="font-family:'DejaVu Sans',sans-serif">65,459</text>
<text x="2191.2" y="1580.3" font-size="23.0" font-weight="700" fill="#3e3a3e" text-anchor="middle" textLength="80.5" lengthAdjust="spacingAndGlyphs" style="font-family:'DejaVu Sans',sans-serif">66,185</text>
<text x="237.2" y="1781.5" font-size="35.0" font-weight="700" fill="#3a383c" text-anchor="middle" textLength="44.6" lengthAdjust="spacingAndGlyphs" style="font-family:'DejaVu Sans',sans-serif">30</text>
<text x="359.3" y="1781.5" font-size="35.0" font-weight="700" fill="#3a383c" text-anchor="middle" textLength="44.6" lengthAdjust="spacingAndGlyphs" style="font-family:'DejaVu Sans',sans-serif">31</text>
<text x="481.3" y="1781.5" font-size="35.0" font-weight="700" fill="#3a383c" text-anchor="middle" textLength="44.6" lengthAdjust="spacingAndGlyphs" style="font-family:'DejaVu Sans',sans-serif">32</text>
<text x="603.4" y="1781.5" font-size="35.0" font-weight="700" fill="#3a383c" text-anchor="middle" textLength="44.6" lengthAdjust="spacingAndGlyphs" style="font-family:'DejaVu Sans',sans-serif">33</text>
<text x="725.4" y="1781.5" font-size="35.0" font-weight="700" fill="#3a383c" text-anchor="middle" textLength="44.6" lengthAdjust="spacingAndGlyphs" style="font-family:'DejaVu Sans',sans-serif">34</text>
<text x="847.5" y="1781.5" font-size="35.0" font-weight="700" fill="#3a383c" text-anchor="middle" textLength="44.6" lengthAdjust="spacingAndGlyphs" style="font-family:'DejaVu Sans',sans-serif">35</text>
<text x="969.6" y="1781.5" font-size="35.0" font-weight="700" fill="#3a383c" text-anchor="middle" textLength="44.6" lengthAdjust="spacingAndGlyphs" style="font-family:'DejaVu Sans',sans-serif">36</text>
<text x="1091.6" y="1781.5" font-size="35.0" font-weight="700" fill="#3a383c" text-anchor="middle" textLength="44.6" lengthAdjust="spacingAndGlyphs" style="font-family:'DejaVu Sans',sans-serif">37</text>
<text x="1213.7" y="1781.5" font-size="35.0" font-weight="700" fill="#3a383c" text-anchor="middle" textLength="44.6" lengthAdjust="spacingAndGlyphs" style="font-family:'DejaVu Sans',sans-serif">38</text>
<text x="1335.7" y="1781.5" font-size="35.0" font-weight="700" fill="#3a383c" text-anchor="middle" textLength="44.6" lengthAdjust="spacingAndGlyphs" style="font-family:'DejaVu Sans',sans-serif">39</text>
<text x="1457.8" y="1781.5" font-size="35.0" font-weight="700" fill="#3a383c" text-anchor="middle" textLength="44.6" lengthAdjust="spacingAndGlyphs" style="font-family:'DejaVu Sans',sans-serif">40</text>
<text x="1579.9" y="1781.5" font-size="35.0" font-weight="700" fill="#3a383c" text-anchor="middle" textLength="44.6" lengthAdjust="spacingAndGlyphs" style="font-family:'DejaVu Sans',sans-serif">41</text>
<text x="1701.9" y="1781.5" font-size="35.0" font-weight="700" fill="#3a383c" text-anchor="middle" textLength="44.6" lengthAdjust="spacingAndGlyphs" style="font-family:'DejaVu Sans',sans-serif">42</text>
<text x="1824.0" y="1781.5" font-size="35.0" font-weight="700" fill="#3a383c" text-anchor="middle" textLength="44.6" lengthAdjust="spacingAndGlyphs" style="font-family:'DejaVu Sans',sans-serif">43</text>
<text x="1946.0" y="1781.5" font-size="35.0" font-weight="700" fill="#3a383c" text-anchor="middle" textLength="44.6" lengthAdjust="spacingAndGlyphs" style="font-family:'DejaVu Sans',sans-serif">44</text>
<text x="2068.1" y="1781.5" font-size="35.0" font-weight="700" fill="#3a383c" text-anchor="middle" textLength="44.6" lengthAdjust="spacingAndGlyphs" style="font-family:'DejaVu Sans',sans-serif">45</text>
<text x="2190.2" y="1781.5" font-size="35.0" font-weight="700" fill="#3a383c" text-anchor="middle" textLength="44.6" lengthAdjust="spacingAndGlyphs" style="font-family:'DejaVu Sans',sans-serif">46</text>
<text x="2312.2" y="1781.5" font-size="35.0" font-weight="700" fill="#3a383c" text-anchor="middle" textLength="44.6" lengthAdjust="spacingAndGlyphs" style="font-family:'DejaVu Sans',sans-serif">47</text>
<text x="151.5" y="1737.8" font-size="21.3" font-weight="400" fill="#1c1c1e" text-anchor="end" textLength="11.6" lengthAdjust="spacingAndGlyphs">0</text>
<text x="151.5" y="1606.1" font-size="21.3" font-weight="400" fill="#1c1c1e" text-anchor="end" textLength="64.6" lengthAdjust="spacingAndGlyphs">50,000</text>
<text x="151.5" y="1474.3" font-size="21.3" font-weight="400" fill="#1c1c1e" text-anchor="end" textLength="76.2" lengthAdjust="spacingAndGlyphs">100,000</text>
<text x="151.5" y="1342.6" font-size="21.3" font-weight="400" fill="#1c1c1e" text-anchor="end" textLength="76.2" lengthAdjust="spacingAndGlyphs">150,000</text>
<text x="151.5" y="1210.8" font-size="21.3" font-weight="400" fill="#1c1c1e" text-anchor="end" textLength="76.2" lengthAdjust="spacingAndGlyphs">200,000</text>
<text x="151.5" y="1079.1" font-size="21.3" font-weight="400" fill="#1c1c1e" text-anchor="end" textLength="76.2" lengthAdjust="spacingAndGlyphs">250,000</text>
<text x="151.5" y="947.3" font-size="21.3" font-weight="400" fill="#1c1c1e" text-anchor="end" textLength="76.2" lengthAdjust="spacingAndGlyphs">300,000</text>
<text x="151.5" y="815.5" font-size="21.3" font-weight="400" fill="#1c1c1e" text-anchor="end" textLength="76.2" lengthAdjust="spacingAndGlyphs">350,000</text>
<text x="151.5" y="683.8" font-size="21.3" font-weight="400" fill="#1c1c1e" text-anchor="end" textLength="76.2" lengthAdjust="spacingAndGlyphs">400,000</text>
<text x="151.5" y="552.0" font-size="21.3" font-weight="400" fill="#1c1c1e" text-anchor="end" textLength="76.2" lengthAdjust="spacingAndGlyphs">450,000</text>
<text x="151.5" y="420.3" font-size="21.3" font-weight="400" fill="#1c1c1e" text-anchor="end" textLength="76.2" lengthAdjust="spacingAndGlyphs">500,000</text>
<text x="151.5" y="288.5" font-size="21.3" font-weight="400" fill="#1c1c1e" text-anchor="end" textLength="76.2" lengthAdjust="spacingAndGlyphs">550,000</text>
<text x="2398.0" y="1739.7" font-size="25.6" font-weight="700" fill="#38383c" text-anchor="start" textLength="103.4" lengthAdjust="spacingAndGlyphs" style="font-family:'DejaVu Sans',sans-serif">240,000</text>
<text x="2398.0" y="1587.0" font-size="25.6" font-weight="700" fill="#38383c" text-anchor="start" textLength="103.4" lengthAdjust="spacingAndGlyphs" style="font-family:'DejaVu Sans',sans-serif">260,000</text>
<text x="2398.0" y="1434.3" font-size="25.6" font-weight="700" fill="#38383c" text-anchor="start" textLength="103.4" lengthAdjust="spacingAndGlyphs" style="font-family:'DejaVu Sans',sans-serif">280,000</text>
<text x="2398.0" y="1281.6" font-size="25.6" font-weight="700" fill="#38383c" text-anchor="start" textLength="103.4" lengthAdjust="spacingAndGlyphs" style="font-family:'DejaVu Sans',sans-serif">300,000</text>
<text x="2398.0" y="1128.9" font-size="25.6" font-weight="700" fill="#38383c" text-anchor="start" textLength="103.4" lengthAdjust="spacingAndGlyphs" style="font-family:'DejaVu Sans',sans-serif">320,000</text>
<text x="2398.0" y="976.3" font-size="25.6" font-weight="700" fill="#38383c" text-anchor="start" textLength="103.4" lengthAdjust="spacingAndGlyphs" style="font-family:'DejaVu Sans',sans-serif">340,000</text>
<text x="2398.0" y="823.6" font-size="25.6" font-weight="700" fill="#38383c" text-anchor="start" textLength="103.4" lengthAdjust="spacingAndGlyphs" style="font-family:'DejaVu Sans',sans-serif">360,000</text>
<text x="2398.0" y="670.9" font-size="25.6" font-weight="700" fill="#38383c" text-anchor="start" textLength="103.4" lengthAdjust="spacingAndGlyphs" style="font-family:'DejaVu Sans',sans-serif">380,000</text>
<text x="2398.0" y="518.2" font-size="25.6" font-weight="700" fill="#38383c" text-anchor="start" textLength="103.4" lengthAdjust="spacingAndGlyphs" style="font-family:'DejaVu Sans',sans-serif">400,000</text>
<text x="2398.0" y="365.5" font-size="25.6" font-weight="700" fill="#38383c" text-anchor="start" textLength="103.4" lengthAdjust="spacingAndGlyphs" style="font-family:'DejaVu Sans',sans-serif">420,000</text>
<text x="1282.0" y="146.5" font-size="32.0" font-weight="700" fill="#111" text-anchor="middle" textLength="410.0" lengthAdjust="spacingAndGlyphs" style="font-family:'DejaVu Sans',sans-serif" stroke="#111" stroke-width="0.50" stroke-linejoin="round">قیمت های معامله شده بورس کالا</text>
<rect x="801.5" y="209" width="74.5" height="36.5" rx="3" fill="#fcbf10"/>
<text x="961.4" y="237.0" font-size="40.0" font-weight="400" fill="#333" text-anchor="middle" textLength="136.8" lengthAdjust="spacingAndGlyphs" style="font-family:'DejaVu Sans',sans-serif">کنسانتره</text>
<line x1="1062.0" x2="1131.0" y1="227.3" y2="227.3" stroke="#f4693b" stroke-width="4" stroke-linecap="round"/>
<circle cx="1096.5" cy="227.3" r="10.8" fill="#f4693b"/>
<text x="1190.8" y="237.0" font-size="40.0" font-weight="400" fill="#333" text-anchor="middle" textLength="80.3" lengthAdjust="spacingAndGlyphs" style="font-family:'DejaVu Sans',sans-serif">گندله</text>
<line x1="1264.0" x2="1332.5" y1="227.3" y2="227.3" stroke="#5b68c6" stroke-width="4" stroke-linecap="round"/>
<circle cx="1297.7" cy="227.3" r="10.8" fill="#5b68c6"/>
<text x="1459.6" y="237.0" font-size="40.0" font-weight="400" fill="#333" text-anchor="middle" textLength="214.0" lengthAdjust="spacingAndGlyphs" style="font-family:'DejaVu Sans',sans-serif">آهن اسفنجی</text>
<line x1="1597.0" x2="1666.0" y1="227.3" y2="227.3" stroke="#8f1050" stroke-width="4" stroke-linecap="round"/>
<circle cx="1631.1" cy="227.3" r="10.8" fill="#8f1050"/>
<text x="1721.0" y="237.0" font-size="40.0" font-weight="400" fill="#333" text-anchor="middle" textLength="68.4" lengthAdjust="spacingAndGlyphs" style="font-family:'DejaVu Sans',sans-serif">بیلت</text>
<text x="0.0" y="0.0" font-size="36.0" font-weight="700" fill="#0a0a0a" text-anchor="middle" textLength="565.0" lengthAdjust="spacingAndGlyphs" style="font-family:'DejaVu Sans',sans-serif" transform="translate(59.5,1006.5) rotate(-90)" stroke="#0a0a0a" stroke-width="0.60" stroke-linejoin="round">کنسانتره | گندله | آهن اسفنجی</text>
<text x="0.0" y="0.0" font-size="44.0" font-weight="400" fill="#333" text-anchor="middle" textLength="86.0" lengthAdjust="spacingAndGlyphs" style="font-family:'DejaVu Sans',sans-serif" transform="translate(2526,1007) rotate(-90)" stroke="#333" stroke-width="1.10" stroke-linejoin="round">بیلت</text>
<g transform="translate(100,70) scale(0.10246)">
<path d="M405,545 Q275,690 200,820 Q360,1000 500,1110" fill="none" stroke="#a2a2a5" stroke-width="19"/>
<path d="M1420,548 Q1570,690 1645,820 Q1560,980 1420,1130" fill="none" stroke="#a2a2a5" stroke-width="15"/>
<clipPath id="cs"><path d="M920,165 Q1335,425 1572,825 Q1300,810 1060,720 Q900,640 845,480 Q830,330 920,165 Z"/></clipPath>
<g clip-path="url(#cs)">
<rect x="800" y="198.0" width="900" height="27.0" fill="#505054" opacity="1.00"/>
<rect x="800" y="245.2" width="900" height="25.4" fill="#505054" opacity="0.96"/>
<rect x="800" y="292.4" width="900" height="23.9" fill="#505054" opacity="0.92"/>
<rect x="800" y="339.6" width="900" height="22.4" fill="#505054" opacity="0.88"/>
<rect x="800" y="386.8" width="900" height="20.8" fill="#505054" opacity="0.84"/>
<rect x="800" y="434.0" width="900" height="19.2" fill="#505054" opacity="0.80"/>
<rect x="800" y="481.2" width="900" height="17.7" fill="#505054" opacity="0.76"/>
<rect x="800" y="528.4" width="900" height="16.1" fill="#505054" opacity="0.72"/>
<rect x="800" y="575.6" width="900" height="14.6" fill="#505054" opacity="0.68"/>
<rect x="800" y="622.8" width="900" height="13.0" fill="#505054" opacity="0.64"/>
<rect x="800" y="670.0" width="900" height="11.5" fill="#505054" opacity="0.60"/>
<rect x="800" y="717.2" width="900" height="9.9" fill="#505054" opacity="0.56"/>
<rect x="800" y="764.4" width="900" height="8.4" fill="#505054" opacity="0.52"/>
<rect x="800" y="811.6" width="900" height="6.8" fill="#505054" opacity="0.48"/>
</g>
<path d="M480,1095 Q560,1170 660,1185 Q780,1170 850,1080 Q895,1000 835,930 Q800,900 760,885 Q900,960 990,1100 Q1040,1250 940,1420 L910,1480 Q690,1290 480,1095 Z" fill="url(#lgg)"/>
<path d="M660,1185 Q780,1170 850,1080 Q880,1030 870,985 Q850,1080 760,1140 Q700,1170 660,1185 Z" fill="#c8c8ca" opacity="0.8"/>
<path d="M920,165 Q540,420 280,805 Q560,810 760,885 Q900,960 990,1100 Q1040,1250 940,1420 L915,1482 Q1330,1230 1572,825 Q1300,810 1060,720 Q900,640 845,480 Q830,330 920,165 Z" fill="url(#lgr)"/>
<path d="M940,1420 Q1280,1190 1500,850 L1572,825 Q1330,1230 915,1482 Z" fill="#5a1216" opacity="0.45"/>
<ellipse cx="600" cy="515" rx="45" ry="18" transform="rotate(-55 600 515)" fill="#fff" opacity="0.22"/>
</g>
<g opacity="0.052" fill="#4a4650" stroke="#4a4650" stroke-width="2.6" stroke-linejoin="round" font-size="58" font-weight="700" font-style="italic" text-anchor="middle" style="font-family:'Liberation Sans',sans-serif;letter-spacing:4px">
<text transform="translate(-115.0,1609.0) rotate(-29.4)" x="0" y="20">STACO</text>
<text transform="translate(-36.4,1748.8) rotate(-29.4)" x="0" y="20">STACO</text>
<text transform="translate(42.2,1888.6) rotate(-29.4)" x="0" y="20">STACO</text>
<text transform="translate(-93.2,860.4) rotate(-29.4)" x="0" y="20">STACO</text>
<text transform="translate(-14.6,1000.2) rotate(-29.4)" x="0" y="20">STACO</text>
<text transform="translate(64.0,1140.0) rotate(-29.4)" x="0" y="20">STACO</text>
<text transform="translate(142.6,1279.8) rotate(-29.4)" x="0" y="20">STACO</text>
<text transform="translate(221.2,1419.6) rotate(-29.4)" x="0" y="20">STACO</text>
<text transform="translate(299.8,1559.4) rotate(-29.4)" x="0" y="20">STACO</text>
<text transform="translate(378.4,1699.2) rotate(-29.4)" x="0" y="20">STACO</text>
<text transform="translate(457.0,1839.0) rotate(-29.4)" x="0" y="20">STACO</text>
<text transform="translate(535.6,1978.8) rotate(-29.4)" x="0" y="20">STACO</text>
<text transform="translate(-150.0,-28.0) rotate(-29.4)" x="0" y="20">STACO</text>
<text transform="translate(-71.4,111.8) rotate(-29.4)" x="0" y="20">STACO</text>
<text transform="translate(7.2,251.6) rotate(-29.4)" x="0" y="20">STACO</text>
<text transform="translate(85.8,391.4) rotate(-29.4)" x="0" y="20">STACO</text>
<text transform="translate(164.4,531.2) rotate(-29.4)" x="0" y="20">STACO</text>
<text transform="translate(243.0,671.0) rotate(-29.4)" x="0" y="20">STACO</text>
<text transform="translate(321.6,810.8) rotate(-29.4)" x="0" y="20">STACO</text>
<text transform="translate(400.2,950.6) rotate(-29.4)" x="0" y="20">STACO</text>
<text transform="translate(478.8,1090.4) rotate(-29.4)" x="0" y="20">STACO</text>
<text transform="translate(557.4,1230.2) rotate(-29.4)" x="0" y="20">STACO</text>
<text transform="translate(636.0,1370.0) rotate(-29.4)" x="0" y="20">STACO</text>
<text transform="translate(714.6,1509.8) rotate(-29.4)" x="0" y="20">STACO</text>
<text transform="translate(793.2,1649.6) rotate(-29.4)" x="0" y="20">STACO</text>
<text transform="translate(871.8,1789.4) rotate(-29.4)" x="0" y="20">STACO</text>
<text transform="translate(950.4,1929.2) rotate(-29.4)" x="0" y="20">STACO</text>
<text transform="translate(264.8,-77.6) rotate(-29.4)" x="0" y="20">STACO</text>
<text transform="translate(343.4,62.2) rotate(-29.4)" x="0" y="20">STACO</text>
<text transform="translate(422.0,202.0) rotate(-29.4)" x="0" y="20">STACO</text>
<text transform="translate(500.6,341.8) rotate(-29.4)" x="0" y="20">STACO</text>
<text transform="translate(579.2,481.6) rotate(-29.4)" x="0" y="20">STACO</text>
<text transform="translate(657.8,621.4) rotate(-29.4)" x="0" y="20">STACO</text>
<text transform="translate(736.4,761.2) rotate(-29.4)" x="0" y="20">STACO</text>
<text transform="translate(815.0,901.0) rotate(-29.4)" x="0" y="20">STACO</text>
<text transform="translate(893.6,1040.8) rotate(-29.4)" x="0" y="20">STACO</text>
<text transform="translate(972.2,1180.6) rotate(-29.4)" x="0" y="20">STACO</text>
<text transform="translate(1050.8,1320.4) rotate(-29.4)" x="0" y="20">STACO</text>
<text transform="translate(1129.4,1460.2) rotate(-29.4)" x="0" y="20">STACO</text>
<text transform="translate(1208.0,1600.0) rotate(-29.4)" x="0" y="20">STACO</text>
<text transform="translate(1286.6,1739.8) rotate(-29.4)" x="0" y="20">STACO</text>
<text transform="translate(1365.2,1879.6) rotate(-29.4)" x="0" y="20">STACO</text>
<text transform="translate(1443.8,2019.4) rotate(-29.4)" x="0" y="20">STACO</text>
<text transform="translate(758.2,12.6) rotate(-29.4)" x="0" y="20">STACO</text>
<text transform="translate(836.8,152.4) rotate(-29.4)" x="0" y="20">STACO</text>
<text transform="translate(915.4,292.2) rotate(-29.4)" x="0" y="20">STACO</text>
<text transform="translate(994.0,432.0) rotate(-29.4)" x="0" y="20">STACO</text>
<text transform="translate(1072.6,571.8) rotate(-29.4)" x="0" y="20">STACO</text>
<text transform="translate(1151.2,711.6) rotate(-29.4)" x="0" y="20">STACO</text>
<text transform="translate(1229.8,851.4) rotate(-29.4)" x="0" y="20">STACO</text>
<text transform="translate(1308.4,991.2) rotate(-29.4)" x="0" y="20">STACO</text>
<text transform="translate(1387.0,1131.0) rotate(-29.4)" x="0" y="20">STACO</text>
<text transform="translate(1465.6,1270.8) rotate(-29.4)" x="0" y="20">STACO</text>
<text transform="translate(1544.2,1410.6) rotate(-29.4)" x="0" y="20">STACO</text>
<text transform="translate(1622.8,1550.4) rotate(-29.4)" x="0" y="20">STACO</text>
<text transform="translate(1701.4,1690.2) rotate(-29.4)" x="0" y="20">STACO</text>
<text transform="translate(1780.0,1830.0) rotate(-29.4)" x="0" y="20">STACO</text>
<text transform="translate(1858.6,1969.8) rotate(-29.4)" x="0" y="20">STACO</text>
<text transform="translate(1173.0,-37.0) rotate(-29.4)" x="0" y="20">STACO</text>
<text transform="translate(1251.6,102.8) rotate(-29.4)" x="0" y="20">STACO</text>
<text transform="translate(1330.2,242.6) rotate(-29.4)" x="0" y="20">STACO</text>
<text transform="translate(1408.8,382.4) rotate(-29.4)" x="0" y="20">STACO</text>
<text transform="translate(1487.4,522.2) rotate(-29.4)" x="0" y="20">STACO</text>
<text transform="translate(1566.0,662.0) rotate(-29.4)" x="0" y="20">STACO</text>
<text transform="translate(1644.6,801.8) rotate(-29.4)" x="0" y="20">STACO</text>
<text transform="translate(1723.2,941.6) rotate(-29.4)" x="0" y="20">STACO</text>
<text transform="translate(1801.8,1081.4) rotate(-29.4)" x="0" y="20">STACO</text>
<text transform="translate(1880.4,1221.2) rotate(-29.4)" x="0" y="20">STACO</text>
<text transform="translate(1959.0,1361.0) rotate(-29.4)" x="0" y="20">STACO</text>
<text transform="translate(2037.6,1500.8) rotate(-29.4)" x="0" y="20">STACO</text>
<text transform="translate(2116.2,1640.6) rotate(-29.4)" x="0" y="20">STACO</text>
<text transform="translate(2194.8,1780.4) rotate(-29.4)" x="0" y="20">STACO</text>
<text transform="translate(2273.4,1920.2) rotate(-29.4)" x="0" y="20">STACO</text>
<text transform="translate(1587.8,-86.6) rotate(-29.4)" x="0" y="20">STACO</text>
<text transform="translate(1666.4,53.2) rotate(-29.4)" x="0" y="20">STACO</text>
<text transform="translate(1745.0,193.0) rotate(-29.4)" x="0" y="20">STACO</text>
<text transform="translate(1823.6,332.8) rotate(-29.4)" x="0" y="20">STACO</text>
<text transform="translate(1902.2,472.6) rotate(-29.4)" x="0" y="20">STACO</text>
<text transform="translate(1980.8,612.4) rotate(-29.4)" x="0" y="20">STACO</text>
<text transform="translate(2059.4,752.2) rotate(-29.4)" x="0" y="20">STACO</text>
<text transform="translate(2138.0,892.0) rotate(-29.4)" x="0" y="20">STACO</text>
<text transform="translate(2216.6,1031.8) rotate(-29.4)" x="0" y="20">STACO</text>
<text transform="translate(2295.2,1171.6) rotate(-29.4)" x="0" y="20">STACO</text>
<text transform="translate(2373.8,1311.4) rotate(-29.4)" x="0" y="20">STACO</text>
<text transform="translate(2452.4,1451.2) rotate(-29.4)" x="0" y="20">STACO</text>
<text transform="translate(2531.0,1591.0) rotate(-29.4)" x="0" y="20">STACO</text>
<text transform="translate(2609.6,1730.8) rotate(-29.4)" x="0" y="20">STACO</text>
<text transform="translate(2688.2,1870.6) rotate(-29.4)" x="0" y="20">STACO</text>
<text transform="translate(2081.2,3.6) rotate(-29.4)" x="0" y="20">STACO</text>
<text transform="translate(2159.8,143.4) rotate(-29.4)" x="0" y="20">STACO</text>
<text transform="translate(2238.4,283.2) rotate(-29.4)" x="0" y="20">STACO</text>
<text transform="translate(2317.0,423.0) rotate(-29.4)" x="0" y="20">STACO</text>
<text transform="translate(2395.6,562.8) rotate(-29.4)" x="0" y="20">STACO</text>
<text transform="translate(2474.2,702.6) rotate(-29.4)" x="0" y="20">STACO</text>
<text transform="translate(2552.8,842.4) rotate(-29.4)" x="0" y="20">STACO</text>
<text transform="translate(2631.4,982.2) rotate(-29.4)" x="0" y="20">STACO</text>
<text transform="translate(2496.0,-46.0) rotate(-29.4)" x="0" y="20">STACO</text>
<text transform="translate(2574.6,93.8) rotate(-29.4)" x="0" y="20">STACO</text>
<text transform="translate(2653.2,233.6) rotate(-29.4)" x="0" y="20">STACO</text>
</g>
</svg>
</body></html>
